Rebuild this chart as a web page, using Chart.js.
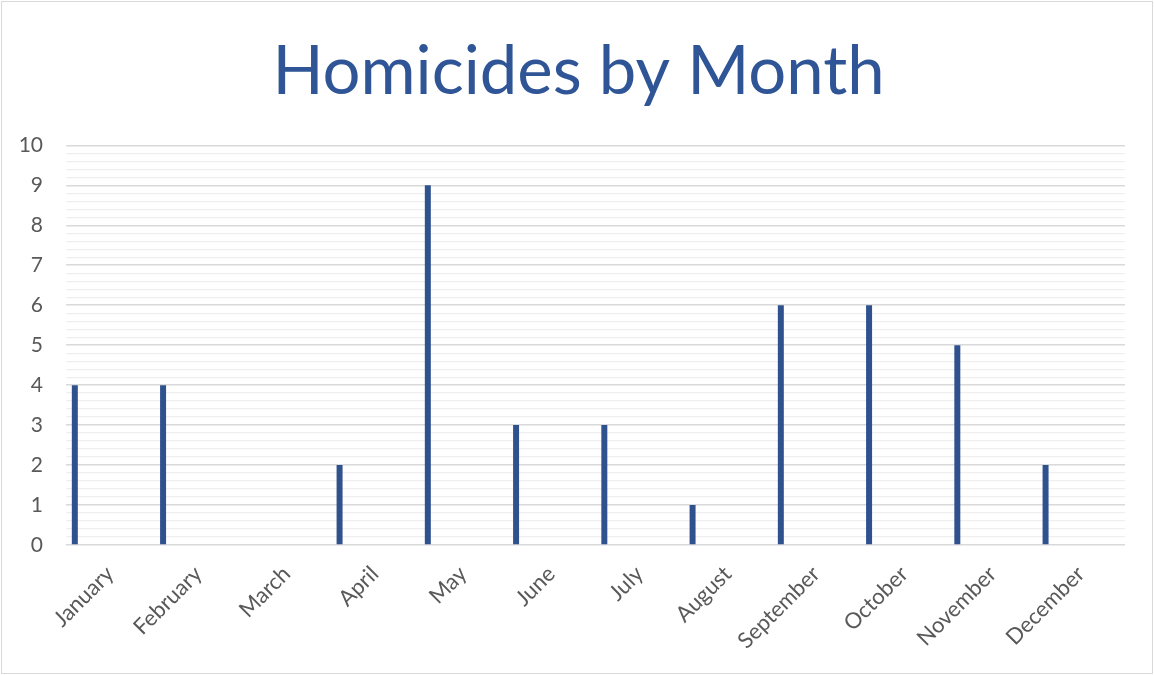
<!DOCTYPE html>
<html>
<head>
<meta charset="utf-8">
<script src="https://cdn.jsdelivr.net/npm/chart.js@4"></script>
<style>
  html, body { margin: 0; padding: 0; background: #fff; }
  .frame {
    position: absolute; left: 1px; top: 1px;
    width: 1152px; height: 673px;
    box-sizing: border-box; border: 1px solid #d9d9d9;
  }
</style>
</head>
<body>
<div class="frame"><canvas id="homicideChart" width="1150" height="671"></canvas></div>
<script>
const months = ['January', 'February', 'March', 'April', 'May', 'June',
  'July', 'August', 'September', 'October', 'November', 'December'];
const homicides = [4, 4, 0, 2, 9, 3, 3, 1, 6, 6, 5, 2];
const yMin = 0;
const yMax = 10;

// Excel placed the series in the first of several clustered slots,
// so empty series keep the bar at the left side of each month
const emptySlots = [[], [], [], []];

function isWhole(v) {
  return Math.abs(v - Math.round(v)) < 1e-6;
}

document.addEventListener("DOMContentLoaded", function () {
  const ctx = document.getElementById('homicideChart').getContext('2d');
  const datasets = [{
    label: 'Homicides',
    data: homicides,
    backgroundColor: '#2f528f',
    barPercentage: 0.34,
    categoryPercentage: 1.0
  }];
  emptySlots.forEach(function (d, i) {
    datasets.push({ label: 'slot' + i, data: d, barPercentage: 0.34, categoryPercentage: 1.0 });
  });

  new Chart(ctx, {
    type: 'bar',
    data: { labels: months, datasets: datasets },
    options: {
      responsive: false,
      animation: false,
      layout: { padding: { left: 16, right: 13, top: 14, bottom: 11 } },
      scales: {
        x: {
          grid: { display: false },
          border: { display: false },
          ticks: {
            color: '#595959',
            font: { family: 'Lato', size: 22 },
            minRotation: 45,
            maxRotation: 45,
            padding: 8
          }
        },
        y: {
          min: yMin,
          max: yMax,
          border: { display: false },
          grid: {
            drawTicks: false,
            color: function (c) { return isWhole(c.tick.value) ? '#d9d9d9' : '#efefef'; },
            lineWidth: function (c) { return isWhole(c.tick.value) ? 1.6 : 1.3; }
          },
          ticks: {
            stepSize: 0.2,
            autoSkip: false,
            color: '#595959',
            font: { family: 'Lato', size: 21 },
            padding: 23,
            callback: function (v) { return isWhole(v) ? Math.round(v) : ''; }
          },
          // the axis came out wider than its labels, pin it
          afterFit: function (s) { s.width = 48; }
        },
        // blank strip on the right so the title stays centred on the page
        yRight: {
          position: 'right',
          display: true,
          min: yMin,
          max: yMax,
          border: { display: false },
          grid: { drawOnChartArea: false, drawTicks: false },
          ticks: { display: false },
          afterFit: function (s) { s.width = 14; }
        }
      },
      plugins: {
        legend: { display: false },
        tooltip: { enabled: false },
        title: {
          display: true,
          text: 'Homicides by Month',
          color: '#2f5597',
          font: { family: 'Lato', size: 67, weight: 'normal' },
          padding: { top: 16, bottom: 33 }
        }
      }
    }
  });
});
</script>
</body>
</html>
